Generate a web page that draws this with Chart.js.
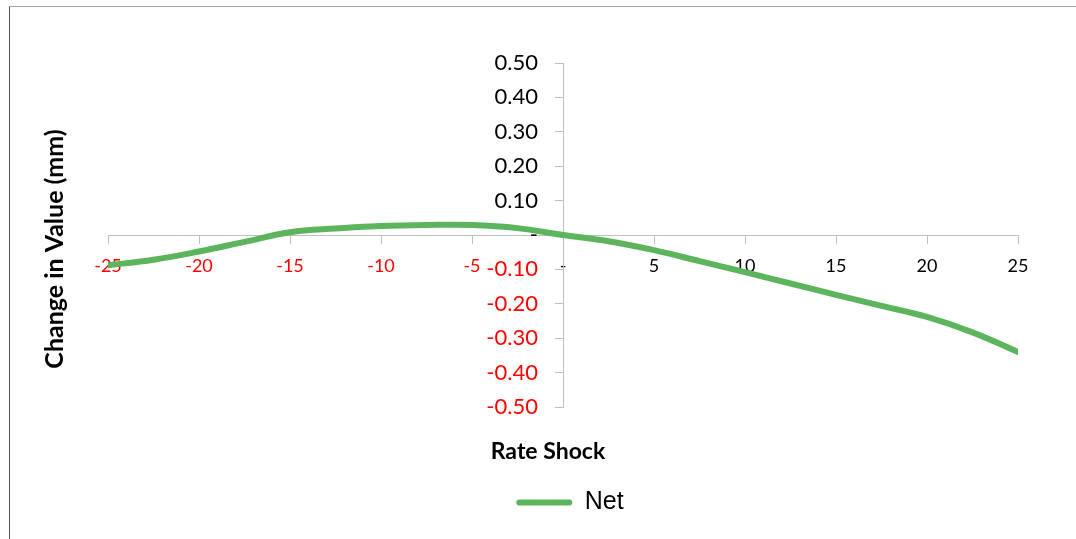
<!DOCTYPE html>
<html>
<head>
<meta charset="utf-8">
<script src="https://cdn.jsdelivr.net/npm/chart.js@4"></script>
<style>
  html, body { margin: 0; padding: 0; background: #fff; }
  #wrap { position: relative; width: 1076px; height: 539px; }
  #frame { position: absolute; left: 9px; top: 6px; right: 0; bottom: 0;
           border-top: 1px solid #a6a6a6; border-left: 1px solid #5a5a5a; }
  canvas { position: absolute; left: 0; top: 0; }
</style>
</head>
<body>
<div id="wrap">
  <div id="frame"></div>
  <canvas id="c" width="1076" height="539"></canvas>
</div>
<script>
// Rate shock scenarios (x) and the net change in value (y, mm)
const shocks = [-25, -22.5, -20, -17.5, -15, -12.5, -10, -7.5, -5, -2.5, 0,
                2.5, 5, 7.5, 10, 12.5, 15, 17.5, 20, 22.5, 25];
const netValues = [-0.088, -0.072, -0.048, -0.020, 0.008, 0.019, 0.026, 0.029, 0.029, 0.020, 0.000,
                   -0.018, -0.044, -0.076, -0.108, -0.141, -0.174, -0.206, -0.238, -0.283, -0.340];
const seriesName = 'Net';
const xTitle = 'Rate Shock';
const yTitle = 'Change in Value (mm)';
const xRange = [-25, 25];
const yRange = [-0.5, 0.5];

const GREEN = '#5cb45d';
const AXIS = '#bfbfbf';
const calibriLike = 'Lato, "Open Sans", sans-serif';

// Axis titles sit outside the crossing axes, so they are painted by hand
const axisTitles = {
  id: 'axisTitles',
  afterLayout(chart) {
    // nudge the legend entry a little to the right of the plot's centre
    chart.legend.left += 7;
    chart.legend.right += 7;
  },
  afterDraw(chart) {
    const ctx = chart.ctx;
    ctx.save();
    ctx.fillStyle = '#000';
    ctx.font = 'bold 23px ' + calibriLike;
    ctx.textAlign = 'center';
    ctx.textBaseline = 'middle';
    ctx.fillText(xTitle, 548, 452);
    ctx.font = 'bold 25px ' + calibriLike;
    ctx.translate(55, 249);
    ctx.rotate(-Math.PI / 2);
    ctx.fillText(yTitle, 0, 0);
    ctx.restore();
  }
};

const negRed = (ctx) => (ctx.tick && ctx.tick.value < -1e-9) ? '#ff0000' : '#000000';

// Both ranges are symmetric, so 'center' puts each axis at the other's zero
new Chart(document.getElementById('c'), {
  type: 'line',
  data: {
    datasets: [{
      label: seriesName,
      data: shocks.map((s, i) => ({ x: s, y: netValues[i] })),
      borderColor: GREEN,
      backgroundColor: GREEN,
      borderWidth: 6,
      pointRadius: 0,
      tension: 0.4,
      borderCapStyle: 'round',
      fill: false
    }]
  },
  options: {
    responsive: false,
    animation: false,
    layout: { padding: { left: 108, right: 58, top: 63, bottom: 14 } },
    plugins: {
      tooltip: { enabled: false },
      legend: {
        position: 'bottom',
        labels: {
          font: { family: '"Liberation Sans", Arial, sans-serif', size: 25 },
          color: '#000',
          boxWidth: 56,
          boxHeight: 6,
          padding: 83,
          useBorderRadius: true,
          borderRadius: 3,
          generateLabels: () => [{
            text: seriesName,
            fillStyle: GREEN,
            strokeStyle: GREEN,
            lineWidth: 0,
            borderRadius: 3,
            datasetIndex: 0,
            hidden: false
          }]
        }
      }
    },
    scales: {
      x: {
        type: 'linear',
        position: 'center',
        min: xRange[0], max: xRange[1],
        afterFit: (s) => { s.height = 0; },
        grid: { drawOnChartArea: false, drawTicks: true, tickLength: 8, color: AXIS, lineWidth: 1 },
        border: { display: true, color: AXIS, width: 1 },
        ticks: {
          stepSize: 5,
          padding: 12,
          maxRotation: 0,
          font: { family: calibriLike, size: 18 },
          color: negRed,
          callback: (v) => Math.abs(v) < 1e-9 ? '-' : String(v)
        }
      },
      y: {
        type: 'linear',
        position: 'center',
        min: yRange[0], max: yRange[1],
        afterFit: (s) => { s.width = 0; },
        grid: { drawOnChartArea: false, drawTicks: true, tickLength: 8, color: AXIS, lineWidth: 1 },
        border: { display: true, color: AXIS, width: 1 },
        ticks: {
          stepSize: 0.1,
          padding: 17,
          font: { family: calibriLike, size: 22 },
          color: negRed,
          callback: (v) => Math.abs(v) < 1e-9 ? '-' : Number(v).toFixed(2)
        }
      }
    }
  },
  plugins: [axisTitles]
});
</script>
</body>
</html>
